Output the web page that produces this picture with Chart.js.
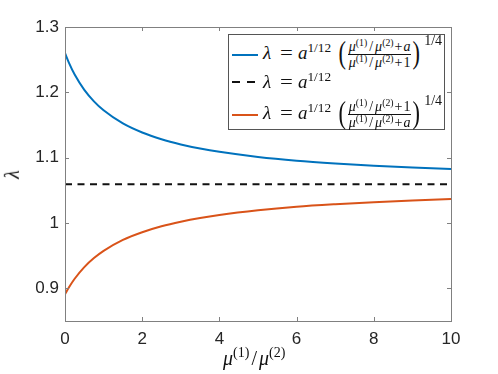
<!DOCTYPE html>
<html>
<head>
<meta charset="utf-8">
<script src="https://cdn.jsdelivr.net/npm/chart.js@4"></script>
<style>
  body { margin: 0; background: #fff; }
  #wrap { position: relative; width: 498px; height: 374px; }
  canvas { position: absolute; left: 0; top: 0; }
  .m { font-family: "Liberation Serif", "DejaVu Serif", serif; color: #111; }
  .m i { font-style: italic; }
  .m sup { font-size: 0.7em; vertical-align: 0.55em; line-height: 0; }
  #ylab { position: absolute; left: 8px; top: 163px; font-size: 20px; transform: rotate(-90deg); }
  #xlab { position: absolute; left: 223px; top: 348px; font-size: 20px; line-height: 21px; white-space: nowrap; }
  #xlab .sl { margin: 0 2px; }
  #legend { position: absolute; left: 228px; top: 34px; width: 217px; height: 96px;
            border: 1px solid #555; background: #fff; box-sizing: border-box; }
  .row { position: absolute; left: 0; display: flex; align-items: center; font-size: 19px; white-space: nowrap; }
  .swatch { width: 26px; height: 2px; margin: 0 5px 0 3px; background: currentColor; flex: none; }
  .dash { background: linear-gradient(to right, #111 0 8px, transparent 8px 15px, #111 15px 23px, transparent 23px); }
  .eq { margin: 0 6px 0 10px; display: inline-block; transform: scaleX(1.2); }
  .frac { display: inline-flex; flex-direction: column; align-items: center; font-size: 14px; vertical-align: middle; margin: 0 1px; }
  .frac .num { border-bottom: 1px solid #111; padding: 0 1px 1px; line-height: 13px; }
  .frac .den { line-height: 15px; }
  .frac .sl { margin: 0 2px; }
  .frac .op { margin: 0 1px; }
  .paren { font-size: 32px; vertical-align: -0.12em; line-height: 0; transform: scaleX(0.7); display: inline-block; margin: 0 -1px; }
  .gap { display: inline-block; width: 7px; }
  .pw { font-size: 14px; position: relative; top: -1.05em; margin-left: 3px; }
</style>
</head>
<body>
<div id="wrap">
  <canvas id="chart" width="498" height="374"></canvas>
  <div id="ylab" class="m"><i>λ</i></div>
  <div id="xlab" class="m"><i>μ</i><sup>(1)</sup><span class="sl">/</span><i>μ</i><sup>(2)</sup></div>
  <div id="legend" class="m">
    <div class="row" style="top:1px; height:38px">
      <span class="swatch" style="color:#0072BD"></span>
      <span><i>λ</i><span class="eq">=</span><i>a</i><sup>1/12</sup><span class="gap"></span><span class="paren">(</span><span class="frac"><span class="num"><i>μ</i><sup>(1)</sup><span class="sl">/</span><i>μ</i><sup>(2)</sup><span class="op">+</span><i>a</i></span><span class="den"><i>μ</i><sup>(1)</sup><span class="sl">/</span><i>μ</i><sup>(2)</sup><span class="op">+</span>1</span></span><span class="paren">)</span><span class="pw">1/4</span></span>
    </div>
    <div class="row" style="top:37px; height:20px">
      <span class="swatch dash"></span>
      <span><i>λ</i><span class="eq">=</span><i>a</i><sup>1/12</sup></span>
    </div>
    <div class="row" style="top:61px; height:38px">
      <span class="swatch" style="color:#D95319"></span>
      <span><i>λ</i><span class="eq">=</span><i>a</i><sup>1/12</sup><span class="gap"></span><span class="paren">(</span><span class="frac"><span class="num"><i>μ</i><sup>(1)</sup><span class="sl">/</span><i>μ</i><sup>(2)</sup><span class="op">+</span>1</span><span class="den"><i>μ</i><sup>(1)</sup><span class="sl">/</span><i>μ</i><sup>(2)</sup><span class="op">+</span><i>a</i></span></span><span class="paren">)</span><span class="pw">1/4</span></span>
    </div>
  </div>
</div>
<script>
// valeurs
const ratio = [0, 0.1, 0.25, 0.5, 0.75, 1, 1.5, 2, 2.5, 3, 3.5, 4, 5, 6, 7, 8, 9, 10];
const upperLambda = [1.2599, 1.2454, 1.2272, 1.2038, 1.1862, 1.1725, 1.1524, 1.1385, 1.1282, 1.1203, 1.1140, 1.1089, 1.1011, 1.0954, 1.0912, 1.0878, 1.0850, 1.0828];
const lowerLambda = [0.8909, 0.9013, 0.9147, 0.9325, 0.9463, 0.9574, 0.9741, 0.9859, 0.9950, 1.0020, 1.0077, 1.0123, 1.0194, 1.0248, 1.0287, 1.0319, 1.0346, 1.0367];
const constX = [0, 10];
const constLambda = [1.0595, 1.0595];
const xTicks = [0, 2, 4, 6, 8, 10];
const yTicks = [0.9, 1, 1.1, 1.2, 1.3];

const toPoints = (xs, ys) => xs.map((x, i) => ({ x: x, y: ys[i] }));

// cadre + graduations vers l'intérieur (style MATLAB)
const boxPlugin = {
    id: 'box',
    afterDraw(chart) {
        const { ctx, chartArea: a, scales } = chart;
        ctx.save();
        ctx.strokeStyle = '#808080';
        ctx.lineWidth = 1;
        ctx.strokeRect(a.left + 0.5, a.top + 0.5, a.right - a.left, a.bottom - a.top);
        ctx.beginPath();
        xTicks.forEach(v => {
            const px = Math.round(scales.x.getPixelForValue(v)) + 0.5;
            ctx.moveTo(px, a.bottom); ctx.lineTo(px, a.bottom - 4);
            ctx.moveTo(px, a.top); ctx.lineTo(px, a.top + 4);
        });
        yTicks.forEach(v => {
            const py = Math.round(scales.y.getPixelForValue(v)) + 0.5;
            ctx.moveTo(a.left, py); ctx.lineTo(a.left + 4, py);
            ctx.moveTo(a.right, py); ctx.lineTo(a.right - 4, py);
        });
        ctx.stroke();
        ctx.restore();
    }
};

const ctx = document.getElementById('chart').getContext('2d');
new Chart(ctx, {
    type: 'line',
    data: {
        datasets: [{
            data: toPoints(ratio, upperLambda),
            borderColor: '#0072BD',
            borderWidth: 2,
            cubicInterpolationMode: 'monotone',
            pointRadius: 0
        }, {
            data: toPoints(constX, constLambda),
            borderColor: '#111111',
            borderWidth: 2,
            borderDash: [7, 5.5],
            pointRadius: 0
        }, {
            data: toPoints(ratio, lowerLambda),
            borderColor: '#D95319',
            borderWidth: 2,
            cubicInterpolationMode: 'monotone',
            pointRadius: 0
        }]
    },
    options: {
        responsive: false,
        animation: false,
        layout: { padding: { left: 0, top: 27, right: 47, bottom: 0 } },
        plugins: { legend: { display: false }, tooltip: { enabled: false } },
        scales: {
            x: {
                type: 'linear',
                min: 0, max: 10,
                grid: { display: false, drawTicks: false },
                border: { display: false },
                afterFit: s => { s.height = 53; },
                afterBuildTicks: s => { s.ticks = xTicks.map(v => ({ value: v })); },
                ticks: {
                    padding: 8,
                    color: '#262626',
                    font: { family: 'Liberation Sans', size: 17 },
                    callback: v => String(v)
                }
            },
            y: {
                min: 0.85, max: 1.3,
                grid: { display: false, drawTicks: false },
                border: { display: false },
                afterFit: s => { s.width = 65; },
                afterBuildTicks: s => { s.ticks = yTicks.map(v => ({ value: v })); },
                ticks: {
                    padding: 6,
                    color: '#262626',
                    font: { family: 'Liberation Sans', size: 17 },
                    callback: v => String(v)
                }
            }
        }
    },
    plugins: [boxPlugin]
});
</script>
</body>
</html>
